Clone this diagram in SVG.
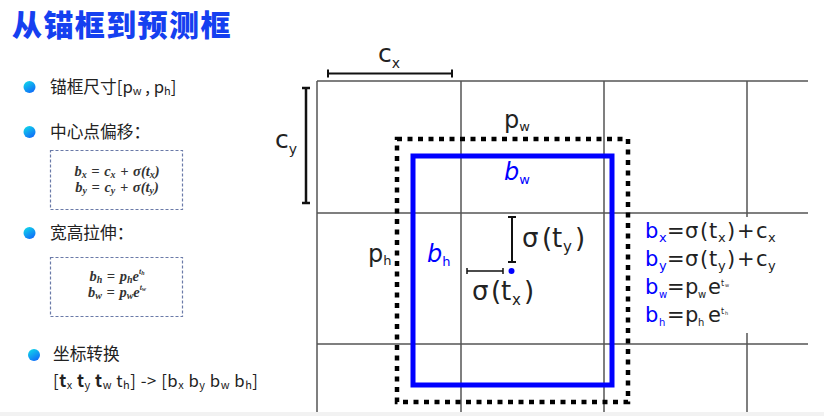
<svg xmlns="http://www.w3.org/2000/svg" width="824" height="416" viewBox="0 0 824 416">
<defs>
<linearGradient id="bul" x1="0" y1="0" x2="0.6" y2="1">
<stop offset="0" stop-color="#10e0e8"/>
<stop offset="1" stop-color="#1070f8"/>
</linearGradient>
<style>
.cn{font-family:"Noto Sans CJK SC","Liberation Sans",sans-serif;fill:#222;font-size:16.7px}
.fig{font-family:"DejaVu Sans","Liberation Sans",sans-serif;fill:#222}
.blue{fill:#0000ff}
.grid{stroke:#555;stroke-width:1.5;fill:none}
.br{stroke:#111;fill:none}
.math{font-family:"Liberation Serif",serif;font-style:italic;font-weight:bold;font-size:14.5px;fill:#333}
.sub{font-size:10px}
.dbox{fill:none;stroke:#6a7aa8;stroke-width:1.2;stroke-dasharray:3 2}
.eq{font-size:21px}
.es{font-size:13px}
</style>
</defs>
<rect width="824" height="416" fill="#fff"/>
<rect x="0" y="412" width="824" height="4" fill="#f2f2f2"/>

<text x="12" y="36" font-family="Noto Sans CJK SC, sans-serif" font-weight="900" font-size="30" letter-spacing="1.4" fill="#1540f0">从锚框到预测框</text>

<g id="left-panel">
<g id="bullet1">
<circle cx="29.5" cy="87" r="6" fill="url(#bul)"/>
<text class="cn" x="50" y="93">锚框尺寸[p<tspan font-size="11" dy="2">w</tspan><tspan dy="-2"> , p</tspan><tspan font-size="11" dy="2">h</tspan><tspan dy="-2">]</tspan></text>
</g>
<g id="bullet2">
<circle cx="29.5" cy="132" r="6" fill="url(#bul)"/>
<text class="cn" x="50" y="138">中心点偏移：</text>
<rect class="dbox" x="50.5" y="150.5" width="132" height="59"/>
<text class="math" x="117" y="176" text-anchor="middle" word-spacing="1">b<tspan class="sub" dy="2">x</tspan><tspan dy="-2"> = c</tspan><tspan class="sub" dy="2">x</tspan><tspan dy="-2"> + σ(t</tspan><tspan class="sub" dy="2">x</tspan><tspan dy="-2">)</tspan></text>
<text class="math" x="117" y="192" text-anchor="middle" word-spacing="1">b<tspan class="sub" dy="2">y</tspan><tspan dy="-2"> = c</tspan><tspan class="sub" dy="2">y</tspan><tspan dy="-2"> + σ(t</tspan><tspan class="sub" dy="2">y</tspan><tspan dy="-2">)</tspan></text>
</g>
<g id="bullet3">
<circle cx="29.5" cy="233" r="6" fill="url(#bul)"/>
<text class="cn" x="50" y="239">宽高拉伸：</text>
<rect class="dbox" x="50.5" y="257.5" width="132" height="59"/>
<text class="math" x="117" y="281" text-anchor="middle" word-spacing="1">b<tspan class="sub" dy="2">h</tspan><tspan dy="-2"> = p</tspan><tspan class="sub" dy="2">h</tspan><tspan dy="-2">e</tspan><tspan font-size="8" dy="-7">t</tspan><tspan font-size="6" dy="1">h</tspan></text>
<text class="math" x="117" y="297" text-anchor="middle" word-spacing="1">b<tspan class="sub" dy="2">w</tspan><tspan dy="-2"> = p</tspan><tspan class="sub" dy="2">w</tspan><tspan dy="-2">e</tspan><tspan font-size="8" dy="-7">t</tspan><tspan font-size="6" dy="1">w</tspan></text>
</g>
<g id="bullet4">
<circle cx="34" cy="355" r="6" fill="url(#bul)"/>
<text class="cn" x="53" y="360">坐标转换</text>
<text class="cn" x="53" y="387" textLength="205" lengthAdjust="spacing">[<tspan font-weight="bold">t</tspan><tspan font-size="11" dy="2">x</tspan><tspan dy="-2"> </tspan><tspan font-weight="bold">t</tspan><tspan font-size="11" dy="2">y</tspan><tspan dy="-2"> </tspan><tspan font-weight="bold">t</tspan><tspan font-size="11" dy="2">w</tspan><tspan dy="-2"> t</tspan><tspan font-size="11" dy="2">h</tspan><tspan dy="-2">] -&gt; [b</tspan><tspan font-size="11" dy="2">x</tspan><tspan dy="-2"> b</tspan><tspan font-size="11" dy="2">y</tspan><tspan dy="-2"> b</tspan><tspan font-size="11" dy="2">w</tspan><tspan dy="-2"> b</tspan><tspan font-size="11" dy="2">h</tspan><tspan dy="-2">]</tspan></text>
</g>
</g>

<g id="grid">
<line class="grid" x1="317" y1="81" x2="808" y2="81"/>
<line class="grid" x1="317" y1="213" x2="808" y2="213"/>
<line class="grid" x1="317" y1="344" x2="808" y2="344"/>
<line class="grid" x1="317" y1="81" x2="317" y2="412"/>
<line class="grid" x1="461" y1="81" x2="461" y2="412"/>
<line class="grid" x1="604" y1="81" x2="604" y2="412" stroke-width="2.2"/>
<line class="grid" x1="747" y1="81" x2="747" y2="412"/>
</g>

<g id="cx-bracket">
<path class="br" stroke-width="2" d="M328 73.5H452M328 69.5V77.5M452 69.5V77.5"/>
<text class="fig" x="378" y="62" font-size="25">c<tspan font-size="14" dy="6">x</tspan></text>
</g>
<g id="cy-bracket">
<path class="br" stroke-width="2.5" d="M306 88V203M302 88H310M302 203H310"/>
<text class="fig" x="275" y="148" font-size="25">c<tspan font-size="14" dy="6">y</tspan></text>
</g>

<g id="anchor-box">
<rect x="397" y="139" width="231" height="263" fill="none" stroke="#000" stroke-width="4.5" stroke-dasharray="5 5.5"/>
<text class="fig" x="504" y="128" font-size="24">p<tspan font-size="13" dy="3">w</tspan></text>
<text class="fig" x="368" y="262" font-size="24">p<tspan font-size="13" dy="3">h</tspan></text>
</g>

<g id="pred-box">
<rect x="413" y="156" width="199" height="229" fill="none" stroke="#0000ff" stroke-width="5"/>
<text class="fig blue" x="504" y="180" font-size="24" font-style="italic">b<tspan font-size="13" dy="4" font-style="normal">w</tspan></text>
<text class="fig blue" x="427" y="262" font-size="24" font-style="italic">b<tspan font-size="13" dy="4" font-style="normal">h</tspan></text>
</g>

<g id="offsets">
<path class="br" stroke-width="2" d="M512 217V262M508 217H516M508 262H516"/>
<text class="fig" y="247" font-size="26"><tspan x="522">σ</tspan><tspan x="542">(</tspan><tspan x="552">t</tspan><tspan x="563" y="252" font-size="15">y</tspan><tspan x="575" y="247">)</tspan></text>
<path class="br" stroke-width="1.5" d="M467 271H503M467 268V274M503 268V274"/>
<circle cx="511.5" cy="271" r="3" fill="#0000ff"/>
<text class="fig" y="300" font-size="26"><tspan x="472">σ</tspan><tspan x="491">(</tspan><tspan x="501">t</tspan><tspan x="512" y="305" font-size="15">x</tspan><tspan x="524" y="300">)</tspan></text>
</g>

<g id="equations">
<rect x="640" y="217" width="160" height="116" fill="#fff"/>
<text class="fig eq" y="238"><tspan class="blue" x="645">b</tspan><tspan class="blue es" x="659" y="242">x</tspan><tspan x="667" y="238">=</tspan><tspan x="685">σ</tspan><tspan x="700">(</tspan><tspan x="709">t</tspan><tspan class="es" x="718" y="242">x</tspan><tspan x="727" y="238">)</tspan><tspan x="737">+</tspan><tspan x="756">c</tspan><tspan class="es" x="768" y="242">x</tspan></text>
<text class="fig eq" y="266"><tspan class="blue" x="645">b</tspan><tspan class="blue es" x="659" y="270">y</tspan><tspan x="667" y="266">=</tspan><tspan x="685">σ</tspan><tspan x="700">(</tspan><tspan x="709">t</tspan><tspan class="es" x="718" y="270">y</tspan><tspan x="727" y="266">)</tspan><tspan x="737">+</tspan><tspan x="756">c</tspan><tspan class="es" x="768" y="270">y</tspan></text>
<text class="fig eq" y="294"><tspan class="blue" x="645">b</tspan><tspan class="blue" font-size="10" x="659" y="298">w</tspan><tspan x="667" y="294">=</tspan><tspan x="685">p</tspan><tspan font-size="10" x="698" y="298">w</tspan><tspan x="708" y="294">e</tspan><tspan font-size="8" x="721" y="286">t</tspan><tspan font-size="5" x="725" y="287">w</tspan></text>
<text class="fig eq" y="322"><tspan class="blue" x="645">b</tspan><tspan class="blue" font-size="10" x="659" y="326">h</tspan><tspan x="667" y="322">=</tspan><tspan x="685">p</tspan><tspan font-size="10" x="698" y="326">h</tspan><tspan x="708" y="322">e</tspan><tspan font-size="8" x="721" y="314">t</tspan><tspan font-size="5" x="725" y="315">h</tspan></text>
</g>
</svg>
